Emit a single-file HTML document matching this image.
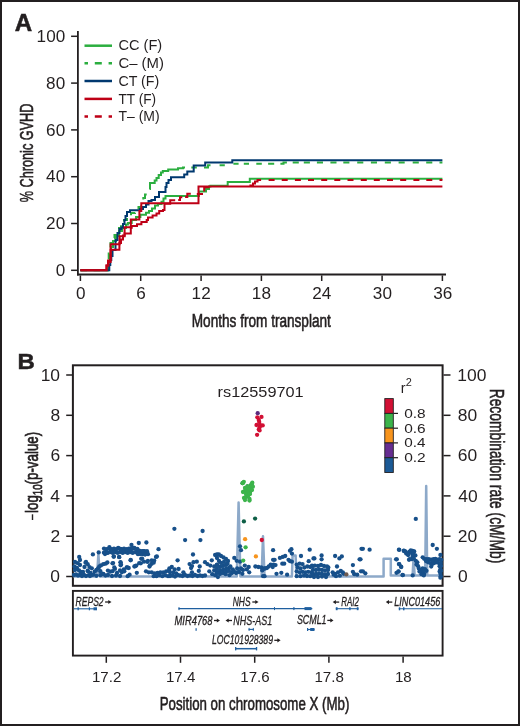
<!DOCTYPE html><html><head><meta charset="utf-8"><style>html,body{margin:0;padding:0;background:#fff;}svg{display:block;will-change:transform;}text{font-family:"Liberation Sans",sans-serif;fill:#231f20;} .cd{stroke:#231f20;stroke-width:0.6px;} .gt{stroke:#231f20;stroke-width:0.3px;}</style></head><body>
<svg width="520" height="726" viewBox="0 0 520 726">
<rect x="0" y="0" width="520" height="726" fill="#fff"/>
<rect x="1" y="1" width="518" height="724" fill="none" stroke="#231f20" stroke-width="2"/>
<text x="14.70" y="30.60" font-size="23.00" textLength="17.44" lengthAdjust="spacingAndGlyphs" font-weight="bold" stroke="#231f20" stroke-width="0.5">A</text>
<path d="M77.9,31 V275.4" stroke="#231f20" stroke-width="1.8" fill="none"/>
<path d="M77,274.5 H446" stroke="#231f20" stroke-width="1.8" fill="none"/>
<path d="M71.1,270.3 H77.9" stroke="#231f20" stroke-width="1.5"/>
<text x="55.65" y="276.00" font-size="16.00" textLength="9.52" lengthAdjust="spacingAndGlyphs">0</text>
<path d="M71.1,223.5 H77.9" stroke="#231f20" stroke-width="1.5"/>
<text x="46.13" y="229.20" font-size="16.00" textLength="19.04" lengthAdjust="spacingAndGlyphs">20</text>
<path d="M71.1,176.7 H77.9" stroke="#231f20" stroke-width="1.5"/>
<text x="46.13" y="182.40" font-size="16.00" textLength="19.04" lengthAdjust="spacingAndGlyphs">40</text>
<path d="M71.1,129.9 H77.9" stroke="#231f20" stroke-width="1.5"/>
<text x="46.13" y="135.60" font-size="16.00" textLength="19.04" lengthAdjust="spacingAndGlyphs">60</text>
<path d="M71.1,83.1 H77.9" stroke="#231f20" stroke-width="1.5"/>
<text x="46.13" y="88.80" font-size="16.00" textLength="19.04" lengthAdjust="spacingAndGlyphs">80</text>
<path d="M71.1,36.3 H77.9" stroke="#231f20" stroke-width="1.5"/>
<text x="36.61" y="42.00" font-size="16.00" textLength="28.56" lengthAdjust="spacingAndGlyphs">100</text>
<path d="M80.4,275.4 V281" stroke="#231f20" stroke-width="1.5"/>
<text x="75.93" y="298.60" font-size="15.60" textLength="9.54" lengthAdjust="spacingAndGlyphs">0</text>
<path d="M140.7,275.4 V281" stroke="#231f20" stroke-width="1.5"/>
<text x="136.21" y="298.60" font-size="15.60" textLength="9.54" lengthAdjust="spacingAndGlyphs">6</text>
<path d="M201.1,275.4 V281" stroke="#231f20" stroke-width="1.5"/>
<text x="191.61" y="298.60" font-size="15.60" textLength="19.09" lengthAdjust="spacingAndGlyphs">12</text>
<path d="M261.4,275.4 V281" stroke="#231f20" stroke-width="1.5"/>
<text x="251.88" y="298.60" font-size="15.60" textLength="19.09" lengthAdjust="spacingAndGlyphs">18</text>
<path d="M321.7,275.4 V281" stroke="#231f20" stroke-width="1.5"/>
<text x="312.32" y="298.60" font-size="15.60" textLength="19.09" lengthAdjust="spacingAndGlyphs">24</text>
<path d="M382.1,275.4 V281" stroke="#231f20" stroke-width="1.5"/>
<text x="372.85" y="298.60" font-size="15.60" textLength="19.09" lengthAdjust="spacingAndGlyphs">30</text>
<path d="M442.4,275.4 V281" stroke="#231f20" stroke-width="1.5"/>
<text x="433.23" y="298.60" font-size="15.60" textLength="19.09" lengthAdjust="spacingAndGlyphs">36</text>
<text x="191.78" y="326.50" font-size="18.30" textLength="139.11" lengthAdjust="spacingAndGlyphs" class="cd">Months from transplant</text>
<text transform="translate(32.6,0) rotate(-90)" x="-202.26" y="0" font-size="19.20" textLength="98.66" lengthAdjust="spacingAndGlyphs" class="cd" style="stroke-width:0.6px">% Chronic GVHD</text>
<path d="M84.5,45.7 H112" stroke="#2bae3f" stroke-width="2.5"/>
<text x="118.46" y="50.40" font-size="14.00" textLength="43.75" lengthAdjust="spacingAndGlyphs">CC (F)</text>
<path d="M84.5,63.3 H112" stroke="#2bae3f" stroke-width="2.5" stroke-dasharray="3.5 6.8 7 6.8 3.5"/>
<text x="118.44" y="68.00" font-size="14.00" textLength="45.49" lengthAdjust="spacingAndGlyphs">C– (M)</text>
<path d="M84.5,81.0 H112" stroke="#00386f" stroke-width="2.5"/>
<text x="118.47" y="85.70" font-size="14.00" textLength="40.80" lengthAdjust="spacingAndGlyphs">CT (F)</text>
<path d="M84.5,98.9 H112" stroke="#be0016" stroke-width="2.5"/>
<text x="118.50" y="103.60" font-size="14.00" textLength="37.65" lengthAdjust="spacingAndGlyphs">TT (F)</text>
<path d="M84.5,116.6 H112" stroke="#be0016" stroke-width="2.5" stroke-dasharray="3.5 6.8 7 6.8 3.5"/>
<text x="118.49" y="121.30" font-size="14.00" textLength="41.17" lengthAdjust="spacingAndGlyphs">T– (M)</text>
<path d="M80.4,270.3 H108 V262 H108.7 V250 H110.5 V243 H112.5 V238 H114.5 V235 H117 V231 H119 V228 H121 V225 H124 V220 H127 V216 H131 V213 H135 V210 H138.5 V207 H141 V201 H142.5" stroke="#2bae3f" stroke-width="2" fill="none" stroke-dasharray="6.5 6.7"/>
<path d="M143.3,199.5 V197.9 H145 V194.5 H146.7 M149.5,189 H150 V183.1 H154.7 V180.4 H156.5 V178 H158.7 V175 H161 V172.5 H162.8 V171 H168.2 V169.5 H178 V168.2 H183 V167.5 H185 M191.3,167.5 H196.8 M204,167.5 H208 V165.2 H210.5 M219.6,165.2 H224.8 M233.4,163.8 H238.6 M243.8,163.8 H249.0 M256.3,163.8 H261.8 M268.1,163.8 H274.2 M280.4,163.8 H283.5 V162.5 H286.9 M292.7,162.5 H298.8 M303.8,162.5 H309.9 M316.9,162.5 H323.0 M330.4,162.5 H336.5 M343.3,162.5 H349.4 M357.2,162.5 H363.3 M370.9,162.5 H377.0 M384.8,162.5 H390.9 M398.6,162.5 H404.7 M412.7,162.5 H418.8 M426.2,162.5 H432.3 M439.5,162.5 H442.4 " stroke="#2bae3f" stroke-width="2" fill="none"/>
<path d="M80.4,270.3 H108.3 V262 H109.5 V255 H111 V247 H113 V241 H116 V236 H119 V231 H122 V228 H126 V224.5 H127.9 V222.9 H131.7 V220 H136 V217 H140.4 V214.7 H146 V212.8 H149 V210.9 H152 V208.5 H155 V205.6 H158 V204.1 H161.5 V201.7 H163.5 V198.4 H165.5 V196 H199 V191.5 H206 V189 H209 V186.5 H210.4 V185.8 H227.7 V182 H249.8 V178.8 H442.4" stroke="#2bae3f" stroke-width="2" fill="none"/>
<path d="M80.4,270.3 H109.3 V265 H110.3 V260 H111.3 V256 H112.5 V250 H115.5 V240 H117.5 V233 H119.5 V229 H121.3 V227.5 H123 V224 H124.5 V220 H125.5 V216 H127 V212 H130 V210.2 H140 V209 H143 V207 H146 V204.5 H148.5 V201 H151.5 V200 H155 V197 H159 V192 H165.5 V187 H166.5 V183 H168.5 V180 H171 V177.3 H184.2 V174.4 H187.3 V171.4 H193.7 V165.6 H205.2 V162.6 H232.3 V160.2 H442.4" stroke="#00386f" stroke-width="2" fill="none"/>
<path d="M80.4,270.3 H106.5 V265.5 H108.5 V262 H110.6 V249.7 H119.4 V243 H121 V239.5 H123 V235.5 H124.6 V233.5 H130.8 V227.7 H131.7 V226 H137 V224.3 H141.4 V222 H146.7 V220 H148 V217.5 H152.6 V215.5 H156.5 V213.5 H159.2 V211 H163 V210 H164.5 V203.7 H170.2 V200.3 H175.2 M178.2,199.9 H180 V197.3 H182.3 M185.1,196.9 H187.3 V193.8 H190.8 M196.8,194 H203 M204.2,191.5 V187.3 H209.5 M250.4,187 V185.4 H253 V183.5 H255 V181.5 H257.5 V179.9 H261.1 M268.6,179.9 H274.6 M281.7,179.9 H287.7 M294.9,179.9 H300.9 M308.0,179.9 H314.0 M321.2,179.9 H327.2 M334.3,179.9 H340.3 M347.5,179.9 H353.5 M360.8,179.9 H366.8 M373.8,179.9 H379.8 M387.0,179.9 H393.0 M400.2,179.9 H406.2 M413.4,179.9 H419.4 M426.3,179.9 H432.3 M439.5,179.9 H442.4 " stroke="#be0016" stroke-width="2" fill="none"/>
<path d="M80.4,270.3 H106.5 V265.5 H108 V260.5 H110.6 V244.2 H119.6 V236.2 H124.6 V227.2 H130.8 V219.5 H139.4 V211 H141.3 V203.3 H198.5 V186.5 H442.4" stroke="#be0016" stroke-width="2" fill="none"/>
<text x="17.50" y="368.80" font-size="22.60" textLength="17.28" lengthAdjust="spacingAndGlyphs" font-weight="bold" stroke="#231f20" stroke-width="0.5">B</text>
<rect x="72.9" y="365.3" width="369.7" height="220.5" fill="none" stroke="#231f20" stroke-width="2"/>
<path d="M66.2,576.5 H72" stroke="#231f20" stroke-width="1.5"/>
<text x="50.37" y="582.10" font-size="15.60" textLength="9.72" lengthAdjust="spacingAndGlyphs">0</text>
<path d="M66.2,536.2 H72" stroke="#231f20" stroke-width="1.5"/>
<text x="50.56" y="541.80" font-size="15.60" textLength="9.72" lengthAdjust="spacingAndGlyphs">2</text>
<path d="M66.2,495.9 H72" stroke="#231f20" stroke-width="1.5"/>
<text x="50.19" y="501.50" font-size="15.60" textLength="9.72" lengthAdjust="spacingAndGlyphs">4</text>
<path d="M66.2,455.6 H72" stroke="#231f20" stroke-width="1.5"/>
<text x="50.45" y="461.20" font-size="15.60" textLength="9.72" lengthAdjust="spacingAndGlyphs">6</text>
<path d="M66.2,415.3 H72" stroke="#231f20" stroke-width="1.5"/>
<text x="50.44" y="420.90" font-size="15.60" textLength="9.72" lengthAdjust="spacingAndGlyphs">8</text>
<path d="M66.2,375.0 H72" stroke="#231f20" stroke-width="1.5"/>
<text x="40.65" y="380.60" font-size="15.60" textLength="19.43" lengthAdjust="spacingAndGlyphs">10</text>
<path d="M443.5,576.5 H450.5" stroke="#231f20" stroke-width="1.5"/>
<text x="457.92" y="582.10" font-size="15.60" textLength="9.72" lengthAdjust="spacingAndGlyphs">0</text>
<path d="M443.5,536.2 H450.5" stroke="#231f20" stroke-width="1.5"/>
<text x="457.73" y="541.80" font-size="15.60" textLength="19.43" lengthAdjust="spacingAndGlyphs">20</text>
<path d="M443.5,495.9 H450.5" stroke="#231f20" stroke-width="1.5"/>
<text x="458.20" y="501.50" font-size="15.60" textLength="19.43" lengthAdjust="spacingAndGlyphs">40</text>
<path d="M443.5,455.6 H450.5" stroke="#231f20" stroke-width="1.5"/>
<text x="457.71" y="461.20" font-size="15.60" textLength="19.43" lengthAdjust="spacingAndGlyphs">60</text>
<path d="M443.5,415.3 H450.5" stroke="#231f20" stroke-width="1.5"/>
<text x="457.85" y="420.90" font-size="15.60" textLength="19.43" lengthAdjust="spacingAndGlyphs">80</text>
<path d="M443.5,375.0 H450.5" stroke="#231f20" stroke-width="1.5"/>
<text x="457.27" y="380.60" font-size="15.60" textLength="29.15" lengthAdjust="spacingAndGlyphs">100</text>
<g transform="translate(37.8,512.1) rotate(-90) scale(0.7206,1)"><text class="cd" style="stroke-width:0.7px" x="-1.24" y="0" font-size="18.5">log<tspan font-size="13.5" dy="4.2">10</tspan><tspan dy="-4.2">(p-value)</tspan></text></g>
<path d="M32.5,514.3 V520" stroke="#231f20" stroke-width="1.4"/>
<text transform="translate(490.3,0) rotate(90)" x="388.67" y="0" font-size="20.00" textLength="174.60" lengthAdjust="spacingAndGlyphs" class="cd">Recombination rate (cM/Mb)</text>
<rect x="384.8" y="398.60" width="8.5" height="14.78" fill="#d21034" stroke="#231f20" stroke-width="0.9"/>
<rect x="384.8" y="413.38" width="8.5" height="14.78" fill="#3cb44b" stroke="#231f20" stroke-width="0.9"/>
<rect x="384.8" y="428.16" width="8.5" height="14.78" fill="#f7941d" stroke="#231f20" stroke-width="0.9"/>
<rect x="384.8" y="442.94" width="8.5" height="14.78" fill="#662d91" stroke="#231f20" stroke-width="0.9"/>
<rect x="384.8" y="457.72" width="8.5" height="14.78" fill="#1b5a96" stroke="#231f20" stroke-width="0.9"/>
<path d="M393.7,413.4 H398" stroke="#231f20" stroke-width="1.2"/>
<text x="404.20" y="417.78" font-size="13.50" textLength="21.47" lengthAdjust="spacingAndGlyphs">0.8</text>
<path d="M393.7,428.2 H398" stroke="#231f20" stroke-width="1.2"/>
<text x="404.20" y="432.56" font-size="13.50" textLength="21.48" lengthAdjust="spacingAndGlyphs">0.6</text>
<path d="M393.7,442.9 H398" stroke="#231f20" stroke-width="1.2"/>
<text x="404.20" y="447.34" font-size="13.50" textLength="21.24" lengthAdjust="spacingAndGlyphs">0.4</text>
<path d="M393.7,457.7 H398" stroke="#231f20" stroke-width="1.2"/>
<text x="404.19" y="462.12" font-size="13.50" textLength="21.58" lengthAdjust="spacingAndGlyphs">0.2</text>
<text x="400.85" y="392.70" font-size="14.40" textLength="4.80" lengthAdjust="spacingAndGlyphs">r</text>
<text x="405.65" y="386.30" font-size="10.30" textLength="6.10" lengthAdjust="spacingAndGlyphs">2</text>
<text x="217.62" y="396.50" font-size="14.00" textLength="86.08" lengthAdjust="spacingAndGlyphs">rs12559701</text>
<rect x="72.9" y="590.9" width="369.7" height="64.7" fill="none" stroke="#231f20" stroke-width="1.9"/>
<path d="M106.3,656.5 V662.8" stroke="#231f20" stroke-width="1.5"/>
<text x="91.92" y="681.70" font-size="14.80" textLength="29.38" lengthAdjust="spacingAndGlyphs">17.2</text>
<path d="M180.5,656.5 V662.8" stroke="#231f20" stroke-width="1.5"/>
<text x="165.96" y="681.70" font-size="14.80" textLength="29.38" lengthAdjust="spacingAndGlyphs">17.4</text>
<path d="M254.7,656.5 V662.8" stroke="#231f20" stroke-width="1.5"/>
<text x="240.27" y="681.70" font-size="14.80" textLength="29.38" lengthAdjust="spacingAndGlyphs">17.6</text>
<path d="M328.9,656.5 V662.8" stroke="#231f20" stroke-width="1.5"/>
<text x="314.46" y="681.70" font-size="14.80" textLength="29.38" lengthAdjust="spacingAndGlyphs">17.8</text>
<path d="M403.1,656.5 V662.8" stroke="#231f20" stroke-width="1.5"/>
<text x="394.96" y="681.70" font-size="14.80" textLength="16.79" lengthAdjust="spacingAndGlyphs">18</text>
<text x="159.71" y="709.50" font-size="18.60" textLength="189.62" lengthAdjust="spacingAndGlyphs" class="cd">Position on chromosome X (Mb)</text>
<path d="M73.5,576.5 H97 L98.4,553.8 L99.8,576.5 H236.8 L238.6,502.5 L240.4,576.5 H261.6 L263,536.3 L264.5,576.5 H291.9 L292.6,555.5 H295.6 L296.5,576.5 H383.6 V558.8 H390.8 V575.5 H412.6 L413.6,557 L414.6,575.5 H425.2 L426.2,486 L427.2,575.5 H441.8" stroke="#8da9c9" stroke-width="2.5" fill="none" stroke-linejoin="round"/>
<circle cx="79.2" cy="556.9" r="2.15" fill="#17508a"/><circle cx="92.9" cy="554.4" r="2.15" fill="#17508a"/><circle cx="98.7" cy="552.4" r="2.15" fill="#17508a"/><circle cx="103.9" cy="552.7" r="2.15" fill="#17508a"/><circle cx="105.0" cy="554.1" r="2.15" fill="#17508a"/><circle cx="107.4" cy="552.7" r="2.15" fill="#17508a"/><circle cx="109.4" cy="547.2" r="2.15" fill="#17508a"/><circle cx="110.8" cy="551.5" r="2.15" fill="#17508a"/><circle cx="113.1" cy="550.4" r="2.15" fill="#17508a"/><circle cx="115.4" cy="549.8" r="2.15" fill="#17508a"/><circle cx="118.2" cy="547.8" r="2.15" fill="#17508a"/><circle cx="120.5" cy="549.0" r="2.15" fill="#17508a"/><circle cx="113.7" cy="556.7" r="2.15" fill="#17508a"/><circle cx="119.1" cy="556.9" r="2.15" fill="#17508a"/><circle cx="77.8" cy="563.2" r="2.15" fill="#17508a"/><circle cx="80.0" cy="565.0" r="2.15" fill="#17508a"/><circle cx="85.5" cy="562.7" r="2.15" fill="#17508a"/><circle cx="84.5" cy="567.0" r="2.15" fill="#17508a"/><circle cx="87.9" cy="571.3" r="2.15" fill="#17508a"/><circle cx="86.0" cy="561.9" r="2.15" fill="#17508a"/><circle cx="87.7" cy="564.2" r="2.15" fill="#17508a"/><circle cx="89.5" cy="567.1" r="2.15" fill="#17508a"/><circle cx="87.7" cy="570.6" r="2.15" fill="#17508a"/><circle cx="91.8" cy="568.3" r="2.15" fill="#17508a"/><circle cx="113.1" cy="563.1" r="2.15" fill="#17508a"/><circle cx="107.4" cy="562.5" r="2.15" fill="#17508a"/><circle cx="105.6" cy="563.7" r="2.15" fill="#17508a"/><circle cx="103.3" cy="564.2" r="2.15" fill="#17508a"/><circle cx="101.0" cy="565.4" r="2.15" fill="#17508a"/><circle cx="99.3" cy="566.5" r="2.15" fill="#17508a"/><circle cx="98.1" cy="568.3" r="2.15" fill="#17508a"/><circle cx="96.4" cy="570.0" r="2.15" fill="#17508a"/><circle cx="94.7" cy="571.7" r="2.15" fill="#17508a"/><circle cx="100.4" cy="571.2" r="2.15" fill="#17508a"/><circle cx="103.3" cy="574.0" r="2.15" fill="#17508a"/><circle cx="107.9" cy="570.6" r="2.15" fill="#17508a"/><circle cx="110.2" cy="571.7" r="2.15" fill="#17508a"/><circle cx="112.5" cy="571.2" r="2.15" fill="#17508a"/><circle cx="114.9" cy="568.9" r="2.15" fill="#17508a"/><circle cx="114.3" cy="567.5" r="2.15" fill="#17508a"/><circle cx="120.0" cy="570.4" r="2.15" fill="#17508a"/><circle cx="117.0" cy="573.0" r="2.15" fill="#17508a"/><circle cx="93.5" cy="574.6" r="2.15" fill="#17508a"/><circle cx="88.9" cy="575.2" r="2.15" fill="#17508a"/><circle cx="96.4" cy="575.8" r="2.15" fill="#17508a"/><circle cx="100.4" cy="575.2" r="2.15" fill="#17508a"/><circle cx="74.0" cy="575.0" r="2.15" fill="#17508a"/><circle cx="76.0" cy="574.5" r="2.15" fill="#17508a"/><circle cx="78.0" cy="575.5" r="2.15" fill="#17508a"/><circle cx="80.0" cy="575.0" r="2.15" fill="#17508a"/><circle cx="82.0" cy="576.0" r="2.15" fill="#17508a"/><circle cx="84.0" cy="575.0" r="2.15" fill="#17508a"/><circle cx="86.0" cy="576.0" r="2.15" fill="#17508a"/><circle cx="90.0" cy="576.0" r="2.15" fill="#17508a"/><circle cx="92.0" cy="575.0" r="2.15" fill="#17508a"/><circle cx="75.0" cy="570.0" r="2.15" fill="#17508a"/><circle cx="77.0" cy="568.0" r="2.15" fill="#17508a"/><circle cx="79.0" cy="570.5" r="2.15" fill="#17508a"/><circle cx="81.0" cy="572.0" r="2.15" fill="#17508a"/><circle cx="83.0" cy="572.0" r="2.15" fill="#17508a"/><circle cx="74.5" cy="566.5" r="2.15" fill="#17508a"/><circle cx="90.5" cy="573.0" r="2.15" fill="#17508a"/><circle cx="75.0" cy="562.0" r="2.15" fill="#17508a"/><circle cx="80.0" cy="560.0" r="2.15" fill="#17508a"/><circle cx="102.8" cy="574.2" r="2.15" fill="#17508a"/><circle cx="105.5" cy="575.5" r="2.15" fill="#17508a"/><circle cx="108.0" cy="575.0" r="2.15" fill="#17508a"/><circle cx="112.0" cy="576.0" r="2.15" fill="#17508a"/><circle cx="116.0" cy="575.5" r="2.15" fill="#17508a"/><circle cx="120.0" cy="576.0" r="2.15" fill="#17508a"/><circle cx="104.0" cy="548.6" r="2.15" fill="#17508a"/><circle cx="105.2" cy="552.1" r="2.15" fill="#17508a"/><circle cx="106.5" cy="549.2" r="2.15" fill="#17508a"/><circle cx="107.7" cy="552.9" r="2.15" fill="#17508a"/><circle cx="109.0" cy="548.6" r="2.15" fill="#17508a"/><circle cx="110.2" cy="552.1" r="2.15" fill="#17508a"/><circle cx="111.5" cy="549.2" r="2.15" fill="#17508a"/><circle cx="112.7" cy="552.9" r="2.15" fill="#17508a"/><circle cx="114.0" cy="548.6" r="2.15" fill="#17508a"/><circle cx="115.2" cy="552.1" r="2.15" fill="#17508a"/><circle cx="116.5" cy="549.2" r="2.15" fill="#17508a"/><circle cx="117.7" cy="552.9" r="2.15" fill="#17508a"/><circle cx="119.0" cy="548.6" r="2.15" fill="#17508a"/><circle cx="120.2" cy="552.1" r="2.15" fill="#17508a"/><circle cx="121.5" cy="549.2" r="2.15" fill="#17508a"/><circle cx="122.7" cy="552.9" r="2.15" fill="#17508a"/><circle cx="124.0" cy="548.6" r="2.15" fill="#17508a"/><circle cx="125.2" cy="552.1" r="2.15" fill="#17508a"/><circle cx="126.5" cy="549.2" r="2.15" fill="#17508a"/><circle cx="127.7" cy="552.9" r="2.15" fill="#17508a"/><circle cx="129.0" cy="548.6" r="2.15" fill="#17508a"/><circle cx="130.2" cy="552.1" r="2.15" fill="#17508a"/><circle cx="131.5" cy="549.2" r="2.15" fill="#17508a"/><circle cx="132.7" cy="552.9" r="2.15" fill="#17508a"/><circle cx="134.0" cy="548.6" r="2.15" fill="#17508a"/><circle cx="135.2" cy="552.1" r="2.15" fill="#17508a"/><circle cx="137.0" cy="551.2" r="2.15" fill="#17508a"/><circle cx="138.0" cy="554.2" r="2.15" fill="#17508a"/><circle cx="139.5" cy="551.2" r="2.15" fill="#17508a"/><circle cx="140.5" cy="554.2" r="2.15" fill="#17508a"/><circle cx="142.0" cy="551.2" r="2.15" fill="#17508a"/><circle cx="143.0" cy="554.2" r="2.15" fill="#17508a"/><circle cx="144.5" cy="551.2" r="2.15" fill="#17508a"/><circle cx="145.5" cy="554.2" r="2.15" fill="#17508a"/><circle cx="147.0" cy="551.2" r="2.15" fill="#17508a"/><circle cx="148.0" cy="554.2" r="2.15" fill="#17508a"/><circle cx="113.8" cy="556.5" r="2.15" fill="#17508a"/><circle cx="119.2" cy="557.2" r="2.15" fill="#17508a"/><circle cx="130.7" cy="559.9" r="2.15" fill="#17508a"/><circle cx="142.1" cy="558.6" r="2.15" fill="#17508a"/><circle cx="156.9" cy="556.5" r="2.15" fill="#17508a"/><circle cx="112.5" cy="563.3" r="2.15" fill="#17508a"/><circle cx="120.6" cy="562.6" r="2.15" fill="#17508a"/><circle cx="120.6" cy="565.3" r="2.15" fill="#17508a"/><circle cx="135.4" cy="566.0" r="2.15" fill="#17508a"/><circle cx="140.8" cy="563.3" r="2.15" fill="#17508a"/><circle cx="147.5" cy="561.9" r="2.15" fill="#17508a"/><circle cx="151.5" cy="563.9" r="2.15" fill="#17508a"/><circle cx="154.2" cy="560.6" r="2.15" fill="#17508a"/><circle cx="149.5" cy="566.6" r="2.15" fill="#17508a"/><circle cx="127.3" cy="567.3" r="2.15" fill="#17508a"/><circle cx="138.8" cy="543.0" r="2.15" fill="#17508a"/><circle cx="146.4" cy="542.5" r="2.15" fill="#17508a"/><circle cx="131.5" cy="544.9" r="2.15" fill="#17508a"/><circle cx="158.5" cy="549.2" r="2.15" fill="#17508a"/><circle cx="121.0" cy="550.0" r="2.15" fill="#17508a"/><circle cx="124.0" cy="550.5" r="2.15" fill="#17508a"/><circle cx="127.0" cy="550.0" r="2.15" fill="#17508a"/><circle cx="130.0" cy="549.0" r="2.15" fill="#17508a"/><circle cx="134.4" cy="547.8" r="2.15" fill="#17508a"/><circle cx="137.3" cy="548.8" r="2.15" fill="#17508a"/><circle cx="139.2" cy="550.7" r="2.15" fill="#17508a"/><circle cx="143.1" cy="551.2" r="2.15" fill="#17508a"/><circle cx="146.9" cy="552.6" r="2.15" fill="#17508a"/><circle cx="137.8" cy="553.6" r="2.15" fill="#17508a"/><circle cx="145.0" cy="554.5" r="2.15" fill="#17508a"/><circle cx="132.0" cy="548.0" r="2.15" fill="#17508a"/><circle cx="156.0" cy="556.9" r="2.15" fill="#17508a"/><circle cx="130.6" cy="560.3" r="2.15" fill="#17508a"/><circle cx="120.5" cy="562.2" r="2.15" fill="#17508a"/><circle cx="121.0" cy="564.6" r="2.15" fill="#17508a"/><circle cx="141.2" cy="558.8" r="2.15" fill="#17508a"/><circle cx="144.0" cy="561.7" r="2.15" fill="#17508a"/><circle cx="147.9" cy="560.8" r="2.15" fill="#17508a"/><circle cx="151.7" cy="560.3" r="2.15" fill="#17508a"/><circle cx="153.7" cy="562.7" r="2.15" fill="#17508a"/><circle cx="149.8" cy="565.6" r="2.15" fill="#17508a"/><circle cx="139.2" cy="563.2" r="2.15" fill="#17508a"/><circle cx="136.3" cy="565.6" r="2.15" fill="#17508a"/><circle cx="134.4" cy="566.5" r="2.15" fill="#17508a"/><circle cx="126.7" cy="567.5" r="2.15" fill="#17508a"/><circle cx="123.8" cy="569.4" r="2.15" fill="#17508a"/><circle cx="128.7" cy="568.0" r="2.15" fill="#17508a"/><circle cx="121.9" cy="572.3" r="2.15" fill="#17508a"/><circle cx="124.3" cy="571.3" r="2.15" fill="#17508a"/><circle cx="136.8" cy="572.8" r="2.15" fill="#17508a"/><circle cx="129.6" cy="574.7" r="2.15" fill="#17508a"/><circle cx="127.7" cy="576.2" r="2.15" fill="#17508a"/><circle cx="146.0" cy="571.3" r="2.15" fill="#17508a"/><circle cx="148.8" cy="572.3" r="2.15" fill="#17508a"/><circle cx="151.7" cy="572.3" r="2.15" fill="#17508a"/><circle cx="154.6" cy="573.3" r="2.15" fill="#17508a"/><circle cx="157.5" cy="572.8" r="2.15" fill="#17508a"/><circle cx="160.4" cy="572.3" r="2.15" fill="#17508a"/><circle cx="163.3" cy="572.3" r="2.15" fill="#17508a"/><circle cx="166.2" cy="571.3" r="2.15" fill="#17508a"/><circle cx="169.0" cy="570.4" r="2.15" fill="#17508a"/><circle cx="153.7" cy="576.2" r="2.15" fill="#17508a"/><circle cx="156.5" cy="576.2" r="2.15" fill="#17508a"/><circle cx="159.4" cy="575.2" r="2.15" fill="#17508a"/><circle cx="162.3" cy="576.2" r="2.15" fill="#17508a"/><circle cx="165.2" cy="575.2" r="2.15" fill="#17508a"/><circle cx="168.0" cy="576.2" r="2.15" fill="#17508a"/><circle cx="174.4" cy="528.8" r="2.15" fill="#17508a"/><circle cx="202.6" cy="531.0" r="2.15" fill="#17508a"/><circle cx="185.1" cy="540.1" r="2.15" fill="#17508a"/><circle cx="200.4" cy="540.1" r="2.15" fill="#17508a"/><circle cx="193.0" cy="554.5" r="2.15" fill="#17508a"/><circle cx="177.6" cy="560.3" r="2.15" fill="#17508a"/><circle cx="171.8" cy="567.0" r="2.15" fill="#17508a"/><circle cx="169.4" cy="568.5" r="2.15" fill="#17508a"/><circle cx="174.7" cy="569.4" r="2.15" fill="#17508a"/><circle cx="178.6" cy="569.0" r="2.15" fill="#17508a"/><circle cx="170.0" cy="572.3" r="2.15" fill="#17508a"/><circle cx="173.3" cy="572.3" r="2.15" fill="#17508a"/><circle cx="176.2" cy="573.3" r="2.15" fill="#17508a"/><circle cx="170.0" cy="576.0" r="2.15" fill="#17508a"/><circle cx="172.5" cy="575.5" r="2.15" fill="#17508a"/><circle cx="175.0" cy="576.5" r="2.15" fill="#17508a"/><circle cx="177.5" cy="575.0" r="2.15" fill="#17508a"/><circle cx="180.0" cy="575.5" r="2.15" fill="#17508a"/><circle cx="182.5" cy="576.0" r="2.15" fill="#17508a"/><circle cx="185.0" cy="575.0" r="2.15" fill="#17508a"/><circle cx="187.5" cy="576.0" r="2.15" fill="#17508a"/><circle cx="190.0" cy="575.5" r="2.15" fill="#17508a"/><circle cx="192.5" cy="576.0" r="2.15" fill="#17508a"/><circle cx="195.0" cy="575.0" r="2.15" fill="#17508a"/><circle cx="197.5" cy="576.0" r="2.15" fill="#17508a"/><circle cx="200.0" cy="575.5" r="2.15" fill="#17508a"/><circle cx="202.5" cy="576.0" r="2.15" fill="#17508a"/><circle cx="205.0" cy="575.5" r="2.15" fill="#17508a"/><circle cx="183.4" cy="572.3" r="2.15" fill="#17508a"/><circle cx="192.0" cy="572.3" r="2.15" fill="#17508a"/><circle cx="198.8" cy="570.9" r="2.15" fill="#17508a"/><circle cx="189.6" cy="564.1" r="2.15" fill="#17508a"/><circle cx="193.5" cy="562.2" r="2.15" fill="#17508a"/><circle cx="196.8" cy="561.7" r="2.15" fill="#17508a"/><circle cx="192.0" cy="566.1" r="2.15" fill="#17508a"/><circle cx="191.1" cy="568.0" r="2.15" fill="#17508a"/><circle cx="199.7" cy="566.5" r="2.15" fill="#17508a"/><circle cx="205.0" cy="562.2" r="2.15" fill="#17508a"/><circle cx="207.4" cy="564.1" r="2.15" fill="#17508a"/><circle cx="211.8" cy="560.3" r="2.15" fill="#17508a"/><circle cx="215.1" cy="555.0" r="2.15" fill="#17508a"/><circle cx="217.0" cy="554.5" r="2.15" fill="#17508a"/><circle cx="210.3" cy="565.6" r="2.15" fill="#17508a"/><circle cx="214.2" cy="566.5" r="2.15" fill="#17508a"/><circle cx="217.0" cy="564.6" r="2.15" fill="#17508a"/><circle cx="209.3" cy="571.3" r="2.15" fill="#17508a"/><circle cx="212.2" cy="574.2" r="2.15" fill="#17508a"/><circle cx="215.1" cy="575.2" r="2.15" fill="#17508a"/><circle cx="217.0" cy="572.3" r="2.15" fill="#17508a"/><circle cx="214.2" cy="570.4" r="2.15" fill="#17508a"/><circle cx="240.0" cy="546.3" r="2.15" fill="#17508a"/><circle cx="241.0" cy="550.2" r="2.15" fill="#17508a"/><circle cx="234.3" cy="557.9" r="2.15" fill="#17508a"/><circle cx="236.7" cy="560.8" r="2.15" fill="#17508a"/><circle cx="240.0" cy="561.7" r="2.15" fill="#17508a"/><circle cx="217.0" cy="555.0" r="2.15" fill="#17508a"/><circle cx="218.9" cy="554.5" r="2.15" fill="#17508a"/><circle cx="221.0" cy="556.0" r="2.15" fill="#17508a"/><circle cx="223.5" cy="557.5" r="2.15" fill="#17508a"/><circle cx="226.0" cy="559.0" r="2.15" fill="#17508a"/><circle cx="228.0" cy="561.0" r="2.15" fill="#17508a"/><circle cx="217.0" cy="558.0" r="2.15" fill="#17508a"/><circle cx="219.0" cy="561.0" r="2.15" fill="#17508a"/><circle cx="221.0" cy="563.0" r="2.15" fill="#17508a"/><circle cx="224.0" cy="562.0" r="2.15" fill="#17508a"/><circle cx="217.0" cy="565.0" r="2.15" fill="#17508a"/><circle cx="220.0" cy="567.0" r="2.15" fill="#17508a"/><circle cx="223.0" cy="566.0" r="2.15" fill="#17508a"/><circle cx="226.0" cy="565.0" r="2.15" fill="#17508a"/><circle cx="217.0" cy="569.0" r="2.15" fill="#17508a"/><circle cx="220.0" cy="571.0" r="2.15" fill="#17508a"/><circle cx="223.0" cy="570.0" r="2.15" fill="#17508a"/><circle cx="226.0" cy="569.0" r="2.15" fill="#17508a"/><circle cx="229.0" cy="568.0" r="2.15" fill="#17508a"/><circle cx="217.0" cy="573.0" r="2.15" fill="#17508a"/><circle cx="220.0" cy="574.0" r="2.15" fill="#17508a"/><circle cx="223.0" cy="573.0" r="2.15" fill="#17508a"/><circle cx="226.0" cy="572.0" r="2.15" fill="#17508a"/><circle cx="229.0" cy="571.0" r="2.15" fill="#17508a"/><circle cx="232.0" cy="573.0" r="2.15" fill="#17508a"/><circle cx="227.5" cy="563.7" r="2.15" fill="#17508a"/><circle cx="230.4" cy="566.5" r="2.15" fill="#17508a"/><circle cx="232.8" cy="569.4" r="2.15" fill="#17508a"/><circle cx="237.2" cy="568.5" r="2.15" fill="#17508a"/><circle cx="241.0" cy="568.5" r="2.15" fill="#17508a"/><circle cx="244.8" cy="565.6" r="2.15" fill="#17508a"/><circle cx="248.7" cy="567.0" r="2.15" fill="#17508a"/><circle cx="246.8" cy="569.4" r="2.15" fill="#17508a"/><circle cx="249.2" cy="572.3" r="2.15" fill="#17508a"/><circle cx="255.4" cy="566.5" r="2.15" fill="#17508a"/><circle cx="258.3" cy="567.0" r="2.15" fill="#17508a"/><circle cx="261.2" cy="567.5" r="2.15" fill="#17508a"/><circle cx="264.1" cy="568.5" r="2.15" fill="#17508a"/><circle cx="262.2" cy="570.4" r="2.15" fill="#17508a"/><circle cx="242.4" cy="573.8" r="2.15" fill="#17508a"/><circle cx="229.5" cy="575.2" r="2.15" fill="#17508a"/><circle cx="225.6" cy="574.2" r="2.15" fill="#17508a"/><circle cx="263.1" cy="576.2" r="2.15" fill="#17508a"/><circle cx="217.9" cy="577.1" r="2.15" fill="#17508a"/><circle cx="234.0" cy="571.5" r="2.15" fill="#17508a"/><circle cx="236.0" cy="573.0" r="2.15" fill="#17508a"/><circle cx="239.0" cy="572.0" r="2.15" fill="#17508a"/><circle cx="243.0" cy="570.0" r="2.15" fill="#17508a"/><circle cx="273.1" cy="550.2" r="2.15" fill="#17508a"/><circle cx="291.4" cy="549.2" r="2.15" fill="#17508a"/><circle cx="290.0" cy="550.7" r="2.15" fill="#17508a"/><circle cx="291.9" cy="553.6" r="2.15" fill="#17508a"/><circle cx="309.7" cy="549.7" r="2.15" fill="#17508a"/><circle cx="301.0" cy="556.0" r="2.15" fill="#17508a"/><circle cx="313.5" cy="558.4" r="2.15" fill="#17508a"/><circle cx="285.2" cy="556.0" r="2.15" fill="#17508a"/><circle cx="282.8" cy="556.9" r="2.15" fill="#17508a"/><circle cx="279.9" cy="557.9" r="2.15" fill="#17508a"/><circle cx="273.1" cy="559.8" r="2.15" fill="#17508a"/><circle cx="274.6" cy="559.8" r="2.15" fill="#17508a"/><circle cx="288.5" cy="559.8" r="2.15" fill="#17508a"/><circle cx="290.0" cy="561.2" r="2.15" fill="#17508a"/><circle cx="291.9" cy="561.7" r="2.15" fill="#17508a"/><circle cx="282.3" cy="563.7" r="2.15" fill="#17508a"/><circle cx="284.2" cy="563.7" r="2.15" fill="#17508a"/><circle cx="270.7" cy="564.6" r="2.15" fill="#17508a"/><circle cx="273.6" cy="564.6" r="2.15" fill="#17508a"/><circle cx="275.5" cy="565.1" r="2.15" fill="#17508a"/><circle cx="268.8" cy="566.5" r="2.15" fill="#17508a"/><circle cx="266.9" cy="568.0" r="2.15" fill="#17508a"/><circle cx="265.0" cy="568.5" r="2.15" fill="#17508a"/><circle cx="272.7" cy="567.0" r="2.15" fill="#17508a"/><circle cx="308.7" cy="561.2" r="2.15" fill="#17508a"/><circle cx="276.5" cy="573.8" r="2.15" fill="#17508a"/><circle cx="281.3" cy="572.8" r="2.15" fill="#17508a"/><circle cx="287.1" cy="574.7" r="2.15" fill="#17508a"/><circle cx="264.5" cy="576.2" r="2.15" fill="#17508a"/><circle cx="296.7" cy="564.6" r="2.15" fill="#17508a"/><circle cx="299.6" cy="563.7" r="2.15" fill="#17508a"/><circle cx="302.5" cy="564.1" r="2.15" fill="#17508a"/><circle cx="297.7" cy="567.5" r="2.15" fill="#17508a"/><circle cx="300.5" cy="568.5" r="2.15" fill="#17508a"/><circle cx="304.4" cy="567.5" r="2.15" fill="#17508a"/><circle cx="307.3" cy="566.5" r="2.15" fill="#17508a"/><circle cx="310.2" cy="567.0" r="2.15" fill="#17508a"/><circle cx="313.0" cy="566.1" r="2.15" fill="#17508a"/><circle cx="296.7" cy="571.3" r="2.15" fill="#17508a"/><circle cx="299.6" cy="572.3" r="2.15" fill="#17508a"/><circle cx="302.5" cy="571.8" r="2.15" fill="#17508a"/><circle cx="305.3" cy="572.3" r="2.15" fill="#17508a"/><circle cx="308.2" cy="571.8" r="2.15" fill="#17508a"/><circle cx="311.1" cy="572.3" r="2.15" fill="#17508a"/><circle cx="296.7" cy="576.2" r="2.15" fill="#17508a"/><circle cx="300.5" cy="576.2" r="2.15" fill="#17508a"/><circle cx="304.0" cy="575.5" r="2.15" fill="#17508a"/><circle cx="307.0" cy="576.0" r="2.15" fill="#17508a"/><circle cx="310.2" cy="576.2" r="2.15" fill="#17508a"/><circle cx="312.6" cy="575.2" r="2.15" fill="#17508a"/><circle cx="314.4" cy="558.4" r="2.15" fill="#17508a"/><circle cx="321.6" cy="555.5" r="2.15" fill="#17508a"/><circle cx="321.6" cy="559.3" r="2.15" fill="#17508a"/><circle cx="335.1" cy="556.0" r="2.15" fill="#17508a"/><circle cx="339.4" cy="558.4" r="2.15" fill="#17508a"/><circle cx="341.8" cy="556.4" r="2.15" fill="#17508a"/><circle cx="361.5" cy="548.8" r="2.15" fill="#17508a"/><circle cx="359.6" cy="559.3" r="2.15" fill="#17508a"/><circle cx="337.0" cy="566.5" r="2.15" fill="#17508a"/><circle cx="352.9" cy="565.1" r="2.15" fill="#17508a"/><circle cx="312.0" cy="565.6" r="2.15" fill="#17508a"/><circle cx="314.9" cy="565.6" r="2.15" fill="#17508a"/><circle cx="318.0" cy="566.0" r="2.15" fill="#17508a"/><circle cx="321.0" cy="565.0" r="2.15" fill="#17508a"/><circle cx="324.0" cy="566.0" r="2.15" fill="#17508a"/><circle cx="327.0" cy="566.5" r="2.15" fill="#17508a"/><circle cx="328.3" cy="567.5" r="2.15" fill="#17508a"/><circle cx="313.0" cy="570.0" r="2.15" fill="#17508a"/><circle cx="316.0" cy="570.0" r="2.15" fill="#17508a"/><circle cx="319.0" cy="569.5" r="2.15" fill="#17508a"/><circle cx="322.0" cy="570.0" r="2.15" fill="#17508a"/><circle cx="325.0" cy="570.5" r="2.15" fill="#17508a"/><circle cx="328.0" cy="570.0" r="2.15" fill="#17508a"/><circle cx="313.0" cy="574.0" r="2.15" fill="#17508a"/><circle cx="316.0" cy="574.0" r="2.15" fill="#17508a"/><circle cx="319.0" cy="573.5" r="2.15" fill="#17508a"/><circle cx="322.0" cy="574.0" r="2.15" fill="#17508a"/><circle cx="325.0" cy="574.5" r="2.15" fill="#17508a"/><circle cx="328.0" cy="574.0" r="2.15" fill="#17508a"/><circle cx="314.0" cy="577.0" r="2.15" fill="#17508a"/><circle cx="318.0" cy="577.0" r="2.15" fill="#17508a"/><circle cx="322.0" cy="576.5" r="2.15" fill="#17508a"/><circle cx="326.0" cy="577.0" r="2.15" fill="#17508a"/><circle cx="332.7" cy="572.3" r="2.15" fill="#17508a"/><circle cx="335.1" cy="573.8" r="2.15" fill="#17508a"/><circle cx="338.0" cy="572.3" r="2.15" fill="#17508a"/><circle cx="340.8" cy="570.9" r="2.15" fill="#17508a"/><circle cx="342.8" cy="572.3" r="2.15" fill="#17508a"/><circle cx="339.9" cy="575.7" r="2.15" fill="#17508a"/><circle cx="336.0" cy="576.2" r="2.15" fill="#17508a"/><circle cx="333.6" cy="574.7" r="2.15" fill="#17508a"/><circle cx="343.7" cy="573.8" r="2.15" fill="#17508a"/><circle cx="352.9" cy="571.8" r="2.15" fill="#17508a"/><circle cx="354.3" cy="574.2" r="2.15" fill="#17508a"/><circle cx="357.2" cy="574.7" r="2.15" fill="#17508a"/><circle cx="361.0" cy="571.3" r="2.15" fill="#17508a"/><circle cx="362.9" cy="548.8" r="2.15" fill="#17508a"/><circle cx="369.6" cy="549.7" r="2.15" fill="#17508a"/><circle cx="360.5" cy="559.3" r="2.15" fill="#17508a"/><circle cx="398.9" cy="549.7" r="2.15" fill="#17508a"/><circle cx="403.8" cy="550.7" r="2.15" fill="#17508a"/><circle cx="406.2" cy="553.6" r="2.15" fill="#17508a"/><circle cx="408.1" cy="555.0" r="2.15" fill="#17508a"/><circle cx="409.5" cy="551.6" r="2.15" fill="#17508a"/><circle cx="396.1" cy="559.3" r="2.15" fill="#17508a"/><circle cx="409.0" cy="559.8" r="2.15" fill="#17508a"/><circle cx="398.9" cy="564.1" r="2.15" fill="#17508a"/><circle cx="401.3" cy="567.0" r="2.15" fill="#17508a"/><circle cx="398.5" cy="571.3" r="2.15" fill="#17508a"/><circle cx="396.5" cy="572.8" r="2.15" fill="#17508a"/><circle cx="402.8" cy="575.2" r="2.15" fill="#17508a"/><circle cx="362.9" cy="571.3" r="2.15" fill="#17508a"/><circle cx="365.3" cy="573.3" r="2.15" fill="#17508a"/><circle cx="415.8" cy="518.9" r="2.15" fill="#17508a"/><circle cx="399.3" cy="549.8" r="2.15" fill="#17508a"/><circle cx="403.9" cy="551.0" r="2.15" fill="#17508a"/><circle cx="396.8" cy="559.3" r="2.15" fill="#17508a"/><circle cx="399.3" cy="564.2" r="2.15" fill="#17508a"/><circle cx="401.0" cy="566.7" r="2.15" fill="#17508a"/><circle cx="398.5" cy="571.7" r="2.15" fill="#17508a"/><circle cx="402.6" cy="575.0" r="2.15" fill="#17508a"/><circle cx="405.4" cy="551.5" r="2.15" fill="#17508a"/><circle cx="406.9" cy="553.1" r="2.15" fill="#17508a"/><circle cx="408.5" cy="554.6" r="2.15" fill="#17508a"/><circle cx="410.8" cy="550.4" r="2.15" fill="#17508a"/><circle cx="412.7" cy="550.8" r="2.15" fill="#17508a"/><circle cx="414.2" cy="551.5" r="2.15" fill="#17508a"/><circle cx="411.9" cy="553.1" r="2.15" fill="#17508a"/><circle cx="413.5" cy="554.2" r="2.15" fill="#17508a"/><circle cx="415.4" cy="555.4" r="2.15" fill="#17508a"/><circle cx="412.7" cy="556.5" r="2.15" fill="#17508a"/><circle cx="409.6" cy="559.2" r="2.15" fill="#17508a"/><circle cx="411.5" cy="559.2" r="2.15" fill="#17508a"/><circle cx="413.8" cy="558.5" r="2.15" fill="#17508a"/><circle cx="415.8" cy="560.8" r="2.15" fill="#17508a"/><circle cx="417.3" cy="562.3" r="2.15" fill="#17508a"/><circle cx="416.5" cy="564.6" r="2.15" fill="#17508a"/><circle cx="418.1" cy="566.2" r="2.15" fill="#17508a"/><circle cx="418.8" cy="568.5" r="2.15" fill="#17508a"/><circle cx="420.4" cy="570.0" r="2.15" fill="#17508a"/><circle cx="422.7" cy="568.5" r="2.15" fill="#17508a"/><circle cx="425.0" cy="569.2" r="2.15" fill="#17508a"/><circle cx="426.5" cy="570.8" r="2.15" fill="#17508a"/><circle cx="421.9" cy="572.3" r="2.15" fill="#17508a"/><circle cx="424.2" cy="573.8" r="2.15" fill="#17508a"/><circle cx="421.5" cy="574.2" r="2.15" fill="#17508a"/><circle cx="423.8" cy="575.4" r="2.15" fill="#17508a"/><circle cx="419.5" cy="571.5" r="2.15" fill="#17508a"/><circle cx="423.0" cy="571.0" r="2.15" fill="#17508a"/><circle cx="412.7" cy="575.4" r="2.15" fill="#17508a"/><circle cx="422.7" cy="557.3" r="2.15" fill="#17508a"/><circle cx="424.2" cy="558.8" r="2.15" fill="#17508a"/><circle cx="426.5" cy="559.2" r="2.15" fill="#17508a"/><circle cx="428.8" cy="559.2" r="2.15" fill="#17508a"/><circle cx="431.2" cy="559.6" r="2.15" fill="#17508a"/><circle cx="433.5" cy="559.2" r="2.15" fill="#17508a"/><circle cx="435.4" cy="558.8" r="2.15" fill="#17508a"/><circle cx="437.3" cy="559.6" r="2.15" fill="#17508a"/><circle cx="439.6" cy="559.2" r="2.15" fill="#17508a"/><circle cx="441.2" cy="560.0" r="2.15" fill="#17508a"/><circle cx="428.1" cy="562.3" r="2.15" fill="#17508a"/><circle cx="430.4" cy="563.1" r="2.15" fill="#17508a"/><circle cx="431.9" cy="564.6" r="2.15" fill="#17508a"/><circle cx="431.2" cy="566.5" r="2.15" fill="#17508a"/><circle cx="434.2" cy="563.1" r="2.15" fill="#17508a"/><circle cx="436.5" cy="562.3" r="2.15" fill="#17508a"/><circle cx="438.8" cy="563.1" r="2.15" fill="#17508a"/><circle cx="440.8" cy="563.1" r="2.15" fill="#17508a"/><circle cx="439.6" cy="566.2" r="2.15" fill="#17508a"/><circle cx="440.4" cy="569.2" r="2.15" fill="#17508a"/><circle cx="439.6" cy="571.5" r="2.15" fill="#17508a"/><circle cx="440.4" cy="573.8" r="2.15" fill="#17508a"/><circle cx="440.8" cy="576.2" r="2.15" fill="#17508a"/><circle cx="440.4" cy="577.7" r="2.15" fill="#17508a"/><circle cx="426.0" cy="561.0" r="2.15" fill="#17508a"/><circle cx="433.0" cy="561.0" r="2.15" fill="#17508a"/><circle cx="437.0" cy="561.5" r="2.15" fill="#17508a"/><circle cx="441.0" cy="566.0" r="2.15" fill="#17508a"/><circle cx="441.0" cy="571.0" r="2.15" fill="#17508a"/><circle cx="432.7" cy="545.0" r="2.15" fill="#17508a"/><circle cx="436.9" cy="548.8" r="2.15" fill="#17508a"/><circle cx="440.4" cy="555.0" r="2.15" fill="#17508a"/>
<circle cx="346.4" cy="574.4" r="2.15" fill="#6e5a50"/>
<circle cx="249.0" cy="488.0" r="2.15" fill="#0e5f46"/><circle cx="251.0" cy="486.0" r="2.15" fill="#0e5f46"/><circle cx="247.5" cy="486.5" r="2.15" fill="#0e5f46"/><circle cx="245.5" cy="490.5" r="2.15" fill="#0e5f46"/><circle cx="250.0" cy="491.5" r="2.15" fill="#0e5f46"/><circle cx="246.5" cy="496.5" r="2.15" fill="#0e5f46"/><circle cx="248.5" cy="490.0" r="2.15" fill="#0e5f46"/><circle cx="242.6" cy="483.2" r="2.15" fill="#0e5f46"/><circle cx="251.5" cy="484.5" r="2.15" fill="#0e5f46"/><circle cx="243.9" cy="521.4" r="2.15" fill="#0e5f46"/><circle cx="255.1" cy="518.6" r="2.15" fill="#0e5f46"/>
<circle cx="245.1" cy="539.2" r="2.15" fill="#f7941d"/><circle cx="255.9" cy="556.4" r="2.15" fill="#f7941d"/>
<circle cx="249.0" cy="488.0" r="2.15" fill="#3cb44b"/><circle cx="251.0" cy="486.0" r="2.15" fill="#3cb44b"/><circle cx="247.5" cy="486.5" r="2.15" fill="#3cb44b"/><circle cx="245.5" cy="490.5" r="2.15" fill="#3cb44b"/><circle cx="250.0" cy="491.5" r="2.15" fill="#3cb44b"/><circle cx="246.5" cy="496.5" r="2.15" fill="#3cb44b"/><circle cx="248.5" cy="490.0" r="2.15" fill="#3cb44b"/><circle cx="242.6" cy="483.2" r="2.15" fill="#3cb44b"/><circle cx="251.5" cy="484.5" r="2.15" fill="#3cb44b"/><circle cx="243.8" cy="481.8" r="2.15" fill="#3cb44b"/><circle cx="252.3" cy="482.7" r="2.15" fill="#3cb44b"/><circle cx="252.9" cy="486.7" r="2.15" fill="#3cb44b"/><circle cx="245.0" cy="488.0" r="2.15" fill="#3cb44b"/><circle cx="243.0" cy="492.0" r="2.15" fill="#3cb44b"/><circle cx="247.0" cy="492.0" r="2.15" fill="#3cb44b"/><circle cx="252.0" cy="490.0" r="2.15" fill="#3cb44b"/><circle cx="248.0" cy="496.0" r="2.15" fill="#3cb44b"/><circle cx="244.0" cy="498.0" r="2.15" fill="#3cb44b"/><circle cx="249.5" cy="499.0" r="2.15" fill="#3cb44b"/><circle cx="245.0" cy="500.0" r="2.15" fill="#3cb44b"/><circle cx="249.5" cy="500.5" r="2.15" fill="#3cb44b"/><circle cx="246.0" cy="494.0" r="2.15" fill="#3cb44b"/><circle cx="250.0" cy="494.0" r="2.15" fill="#3cb44b"/><circle cx="245.6" cy="547.3" r="2.15" fill="#3cb44b"/><circle cx="243.2" cy="560.6" r="2.15" fill="#3cb44b"/>
<circle cx="257.3" cy="417.3" r="2.15" fill="#d21034"/><circle cx="261.5" cy="416.9" r="2.15" fill="#d21034"/><circle cx="258.8" cy="420.0" r="2.15" fill="#d21034"/><circle cx="259.2" cy="421.9" r="2.15" fill="#d21034"/><circle cx="256.5" cy="425.0" r="2.15" fill="#d21034"/><circle cx="260.0" cy="425.0" r="2.15" fill="#d21034"/><circle cx="262.7" cy="425.4" r="2.15" fill="#d21034"/><circle cx="259.6" cy="427.3" r="2.15" fill="#d21034"/><circle cx="258.8" cy="429.6" r="2.15" fill="#d21034"/><circle cx="259.6" cy="430.4" r="2.15" fill="#d21034"/><circle cx="257.1" cy="434.8" r="2.15" fill="#d21034"/><circle cx="261.8" cy="540.0" r="2.15" fill="#d21034"/>
<circle cx="257.7" cy="413.2" r="2.15" fill="#5b2a7e"/>
<text x="75.53" y="605.80" font-size="12.40" textLength="28.10" lengthAdjust="spacingAndGlyphs" font-style="italic" class="gt">REPS2</text>
<path d="M105.1,602.0 H109.5" stroke="#231f20" stroke-width="1.3"/><path d="M111.5,602.0 l-3.2,-2.1 v4.2 z" fill="#231f20"/>
<path d="M73.8,608.8 H97.0" stroke="#1f5f9f" stroke-width="1.1"/><rect x="77.5" y="607.3" width="1.3" height="3" fill="#1f5f9f"/><rect x="88.8" y="607.3" width="1.2" height="3" fill="#1f5f9f"/><rect x="93.5" y="607.3" width="3.5" height="3" fill="#1f5f9f"/>
<text x="232.64" y="606.00" font-size="12.40" textLength="17.96" lengthAdjust="spacingAndGlyphs" font-style="italic" class="gt">NHS</text>
<path d="M252.3,602.0 H256.5" stroke="#231f20" stroke-width="1.3"/><path d="M258.5,602.0 l-3.2,-2.1 v4.2 z" fill="#231f20"/>
<path d="M178.5,608.6 H312.3" stroke="#1f5f9f" stroke-width="1.1"/><rect x="178.5" y="607.1" width="1.0" height="3" fill="#1f5f9f"/><rect x="274.0" y="607.1" width="1.0" height="3" fill="#1f5f9f"/><rect x="293.3" y="607.1" width="1.2" height="3" fill="#1f5f9f"/><rect x="304.5" y="607.1" width="7.0" height="3" fill="#1f5f9f"/>
<text x="174.51" y="624.50" font-size="12.40" textLength="38.05" lengthAdjust="spacingAndGlyphs" font-style="italic" class="gt">MIR4768</text>
<path d="M214.0,620.5 H218.0" stroke="#231f20" stroke-width="1.3"/><path d="M220.0,620.5 l-3.2,-2.1 v4.2 z" fill="#231f20"/>
<rect x="195.5" y="628.2" width="1.2" height="2.6" fill="#1f5f9f"/>
<path d="M227.5,620.5 H232.0" stroke="#231f20" stroke-width="1.3"/><path d="M225.5,620.5 l3.2,-2.1 v4.2 z" fill="#231f20"/>
<text x="233.32" y="624.50" font-size="12.40" textLength="38.84" lengthAdjust="spacingAndGlyphs" font-style="italic" class="gt">NHS-AS1</text>
<path d="M248.6,629.4 H253.8" stroke="#1f5f9f" stroke-width="1.1"/><rect x="248.6" y="627.9" width="1.0" height="3" fill="#1f5f9f"/><rect x="252.8" y="627.9" width="1.0" height="3" fill="#1f5f9f"/>
<text x="296.95" y="624.30" font-size="12.40" textLength="29.61" lengthAdjust="spacingAndGlyphs" font-style="italic" class="gt">SCML1</text>
<path d="M327.3,620.4 H331.5" stroke="#231f20" stroke-width="1.3"/><path d="M333.5,620.4 l-3.2,-2.1 v4.2 z" fill="#231f20"/>
<path d="M307.0,629.5 H314.5" stroke="#1f5f9f" stroke-width="1.1"/><rect x="307.0" y="628.0" width="1.2" height="3" fill="#1f5f9f"/><rect x="310.2" y="628.0" width="4.3" height="3" fill="#1f5f9f"/>
<text x="212.03" y="644.20" font-size="12.40" textLength="60.95" lengthAdjust="spacingAndGlyphs" font-style="italic" class="gt">LOC101928389</text>
<path d="M274.3,640.3 H278.6" stroke="#231f20" stroke-width="1.3"/><path d="M280.6,640.3 l-3.2,-2.1 v4.2 z" fill="#231f20"/>
<path d="M235.4,648.7 H256.9" stroke="#1f5f9f" stroke-width="1.5"/><rect x="235" y="647" width="1.3" height="3.4" fill="#1f5f9f"/><rect x="255.9" y="647" width="1.3" height="3.4" fill="#1f5f9f"/>
<path d="M334.7,602.1 H339.2" stroke="#231f20" stroke-width="1.3"/><path d="M332.7,602.1 l3.2,-2.1 v4.2 z" fill="#231f20"/>
<text x="341.25" y="606.30" font-size="12.40" textLength="17.67" lengthAdjust="spacingAndGlyphs" font-style="italic" class="gt">RAI2</text>
<path d="M335.8,608.7 H358.5" stroke="#1f5f9f" stroke-width="1.1"/><rect x="335.8" y="607.2" width="1.8" height="3" fill="#1f5f9f"/><rect x="349.2" y="607.2" width="1.4" height="3" fill="#1f5f9f"/><rect x="356.8" y="607.2" width="1.7" height="3" fill="#1f5f9f"/>
<path d="M387.8,602.1 H392.3" stroke="#231f20" stroke-width="1.3"/><path d="M385.8,602.1 l3.2,-2.1 v4.2 z" fill="#231f20"/>
<text x="394.22" y="606.30" font-size="12.40" textLength="46.08" lengthAdjust="spacingAndGlyphs" font-style="italic" class="gt">LINC01456</text>
<path d="M398.8,608.8 H442.0" stroke="#1f5f9f" stroke-width="1.1"/><rect x="398.8" y="607.3" width="1.4" height="3" fill="#1f5f9f"/><rect x="403.0" y="607.3" width="1.5" height="3" fill="#1f5f9f"/>
</svg></body></html>
